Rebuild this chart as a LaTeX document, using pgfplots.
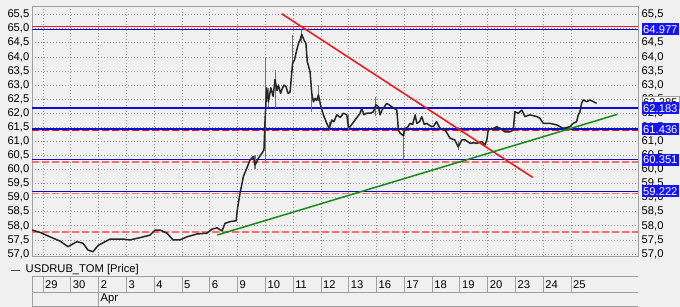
\documentclass[border=0pt]{standalone}
\usepackage{pgfplots}
\pgfplotsset{compat=1.18}
\usepackage{fontspec}
\setmainfont{Liberation Sans}
\definecolor{bg}{RGB}{240,240,240}
\definecolor{gridc}{RGB}{150,150,150}
\definecolor{framec}{RGB}{160,160,160}
\definecolor{lvlblue}{RGB}{10,10,210}
\definecolor{boxblue}{RGB}{20,20,245}
\definecolor{lvlred}{RGB}{240,20,20}
\definecolor{pinkd}{RGB}{255,110,110}
\definecolor{trgreen}{RGB}{20,140,20}
\newcommand{\fs}{\fontsize{11.2}{13}\selectfont}
\pgfplotsset{
  commonax/.style={
    at={(32pt,51pt)}, anchor=south west,
    width=606pt, height=250pt, scale only axis,
    xmin=-0.396, xmax=21.41, ymin=56.929, ymax=65.807,
    ytick={57,57.5,58,58.5,59,59.5,60,60.5,61,61.5,62,62.5,63,63.5,64,64.5,65,65.5},
    major tick length=0pt,
    scaled y ticks=false,
    /pgf/number format/fixed,
    /pgf/number format/fixed zerofill,
    /pgf/number format/precision=1,
    /pgf/number format/use comma,
    /pgf/number format/assume math mode=true,
    yticklabel style={font=\fs, inner sep=0pt},
  }
}
\begin{document}
\begin{tikzpicture}[x=1pt,y=1pt]
\fill[bg] (0,0) rectangle (680,307);
% main axis
\begin{axis}[commonax,
  axis background/.style={fill=bg},
  axis line style={framec},
  xtick={0,...,19},
  xticklabels={29,30,2,3,4,5,6,9,10,11,12,13,16,17,18,19,20,23,24,25},
  xticklabel style={font=\fs, anchor=west, inner sep=0pt, yshift=-29pt, xshift=2pt},
  yticklabel style={anchor=east, xshift=-2.5pt},
  grid=major, grid style={gridc, line width=0.7pt, dash pattern=on 1pt off 2pt},
]
% level lines
\addplot[pinkd, line width=1.6pt, dash pattern=on 7pt off 3pt] coordinates {(-0.396,57.79) (21.41,57.79)};
\addplot[pinkd, line width=1.6pt, dash pattern=on 7pt off 3pt] coordinates {(-0.396,59.15) (21.41,59.15)};
\addplot[pinkd, line width=1.6pt, dash pattern=on 7pt off 3pt] coordinates {(-0.396,60.27) (21.41,60.27)};
\addplot[lvlred, line width=1.5pt, dash pattern=on 7pt off 3pt] coordinates {(-0.396,61.39) (21.41,61.39)};
\addplot[lvlblue, line width=1.5pt] coordinates {(-0.396,59.222) (21.41,59.222)};
\addplot[lvlblue, line width=1.5pt] coordinates {(-0.396,60.351) (21.41,60.351)};
\addplot[lvlblue, line width=1.5pt] coordinates {(-0.396,61.436) (21.41,61.436)};
\addplot[lvlblue, line width=1.5pt] coordinates {(-0.396,62.183) (21.41,62.183)};
\addplot[lvlblue, line width=1.5pt] coordinates {(-0.396,64.977) (21.41,64.977)};
\addplot[lvlred, line width=1.6pt] coordinates {(-0.396,65.08) (21.41,65.08)};
% wicks
\addplot[black!55, line width=1.1pt, unbounded coords=jump] coordinates {
(7.63,60.02) (7.63,60.5) (7.63,nan)
(7.99,60.3) (7.99,63.95) (7.99,nan)
(8.11,62.23) (8.11,62.9) (8.11,nan)
(8.35,62.18) (8.35,63.53) (8.35,nan)
(8.98,63.5) (8.98,64.78) (8.98,nan)
(9.31,64.5) (9.31,64.95) (9.31,nan)
(9.67,62.05) (9.67,62.9) (9.67,nan)
(9.91,62.45) (9.91,63.0) (9.91,nan)
(10.30,61.36) (10.30,61.7) (10.30,nan)
(10.99,61.40) (10.99,61.95) (10.99,nan)
(11.98,61.9) (11.98,62.59) (11.98,nan)
(12.97,60.35) (12.97,61.4) (12.97,nan)
(14.94,60.69) (14.94,61.0)
};
% price
\addplot[black!85, line width=1.5pt, line join=round] coordinates {
(-0.40,57.85) (-0.11,57.77) (0.25,57.61) (0.61,57.46) (0.90,57.26) (1.22,57.44) (1.44,57.38) (1.62,57.14) (1.80,57.08) (1.98,57.30)
(2.41,57.53) (2.88,57.53) (3.13,57.50) (3.49,57.58) (3.85,57.67) (4.03,57.85) (4.21,57.85) (4.46,57.74) (4.68,57.50) (4.93,57.50)
(5.18,57.61) (5.54,57.71) (5.90,57.74) (6.08,57.88) (6.26,57.93) (6.44,57.82) (6.55,58.09) (6.73,58.15) (6.95,58.18) (6.99,58.56)
(7.03,58.80) (7.09,59.16) (7.15,59.45) (7.21,59.75) (7.33,60.04) (7.45,60.34) (7.57,60.46) (7.63,60.16) (7.75,60.40) (7.87,60.57)
(7.95,60.69) (7.99,61.76) (8.05,62.9) (8.11,62.4) (8.20,62.9) (8.28,62.6) (8.35,63.2) (8.42,62.8) (8.47,63.0) (8.55,62.7)
(8.60,62.85) (8.67,63.0) (8.74,62.95) (8.82,62.7) (8.89,62.75) (8.98,63.77) (9.05,63.9) (9.13,64.24) (9.20,64.5) (9.25,64.6)
(9.31,64.8) (9.39,64.6) (9.46,64.48) (9.51,63.83) (9.61,63.47) (9.67,62.71) (9.73,62.4) (9.79,62.53) (9.85,62.45) (9.91,62.65)
(10.00,62.23) (10.09,61.94) (10.21,61.64) (10.30,61.45) (10.39,61.76) (10.47,61.7) (10.57,61.94) (10.70,61.85) (10.81,62.0) (10.93,61.94)
(10.99,61.5) (11.05,61.52) (11.23,61.76) (11.41,62.0) (11.47,62.17) (11.55,61.95) (11.65,62.0) (11.78,62.0) (11.89,62.05) (11.98,62.3)
(12.07,62.23) (12.13,61.94) (12.20,62.11) (12.37,62.35) (12.55,62.23) (12.73,62.11) (12.79,61.40) (12.85,61.29) (12.97,61.2) (13.03,61.46)
(13.12,61.5) (13.21,61.64) (13.30,61.6) (13.39,61.94) (13.45,61.64) (13.55,61.7) (13.63,61.88) (13.72,61.6) (13.81,61.64) (13.93,61.55)
(14.04,61.52) (14.16,61.70) (14.29,61.46) (14.47,61.40) (14.65,61.11) (14.82,61.05) (14.94,60.80) (15.07,61.05) (15.19,61.05) (15.37,60.93)
(15.50,60.95) (15.61,60.93) (15.79,60.99) (15.90,60.87) (15.97,61.05) (16.02,61.40) (16.20,61.46) (16.33,61.52) (16.44,61.46) (16.62,61.34)
(16.80,61.34) (16.92,61.40) (16.98,62.05) (17.10,62.0) (17.23,62.11) (17.34,61.88) (17.52,61.94) (17.77,61.88) (17.88,61.82) (18.00,61.64)
(18.24,61.64) (18.49,61.58) (18.72,61.46) (18.96,61.52) (19.08,61.64) (19.20,61.70) (19.26,61.94) (19.32,62.05) (19.38,62.35) (19.44,62.47)
(19.56,62.41) (19.68,62.47) (19.80,62.41) (19.92,62.35)
};
% trend lines
\addplot[lvlred, line width=1.5pt] coordinates {(8.59,65.53) (17.62,59.72)};
\addplot[trgreen, line width=1.5pt] coordinates {(6.27,57.675) (20.67,61.96)};
\end{axis}
% right scale
\begin{axis}[commonax, hide x axis, axis y line*=right, y axis line style={draw=none},
  yticklabel style={anchor=west, xshift=3.5pt}]
\addplot[draw=none] coordinates {(0,60)};
\end{axis}
% value boxes
\begin{axis}[commonax, hide axis, clip=false]
\addplot[draw=none] coordinates {(0,60)};
\tikzset{valbox/.style={anchor=west, xshift=3.5pt, font=\fs, inner xsep=1.5pt, inner ysep=0pt, minimum height=12pt, text height=8.2pt, text depth=0pt}}
\node[valbox, fill=white, draw=framec, text=black] at (axis cs:21.41,62.385) {62.385};
\node[valbox, fill=boxblue, text=white] at (axis cs:21.41,64.977) {64.977};
\node[valbox, fill=boxblue, text=white] at (axis cs:21.41,62.183) {62.183};
\node[valbox, fill=boxblue, text=white] at (axis cs:21.41,61.436) {61.436};
\node[valbox, fill=boxblue, text=white] at (axis cs:21.41,60.351) {60.351};
\node[valbox, fill=boxblue, text=white] at (axis cs:21.41,59.222) {59.222};
\end{axis}
% legend and date table
\draw[black!70, line width=0.8pt] (10.5,37) -- (19.5,37);
\node[anchor=west, font=\fs, inner sep=0pt] at (25.5,37.5) {USDRUB\_TOM [Price]};
\draw[framec, line width=0.8pt] (32,31) -- (638,31) (32,14.5) -- (638,14.5) (32,1) -- (638,1);
\draw[framec, line width=0.8pt] (32,1) -- (32,31) (98.6,1) -- (98.6,14.5);
\foreach \k in {0,...,19} { \draw[framec, line width=0.8pt] ({43+27.79*\k},14.5) -- ({43+27.79*\k},31); }
\node[anchor=base west, font=\fs, inner sep=0pt] at (100.5,5) {Apr};
\pgfresetboundingbox
\path (0,0) rectangle (680,307);
\end{tikzpicture}
\end{document}
